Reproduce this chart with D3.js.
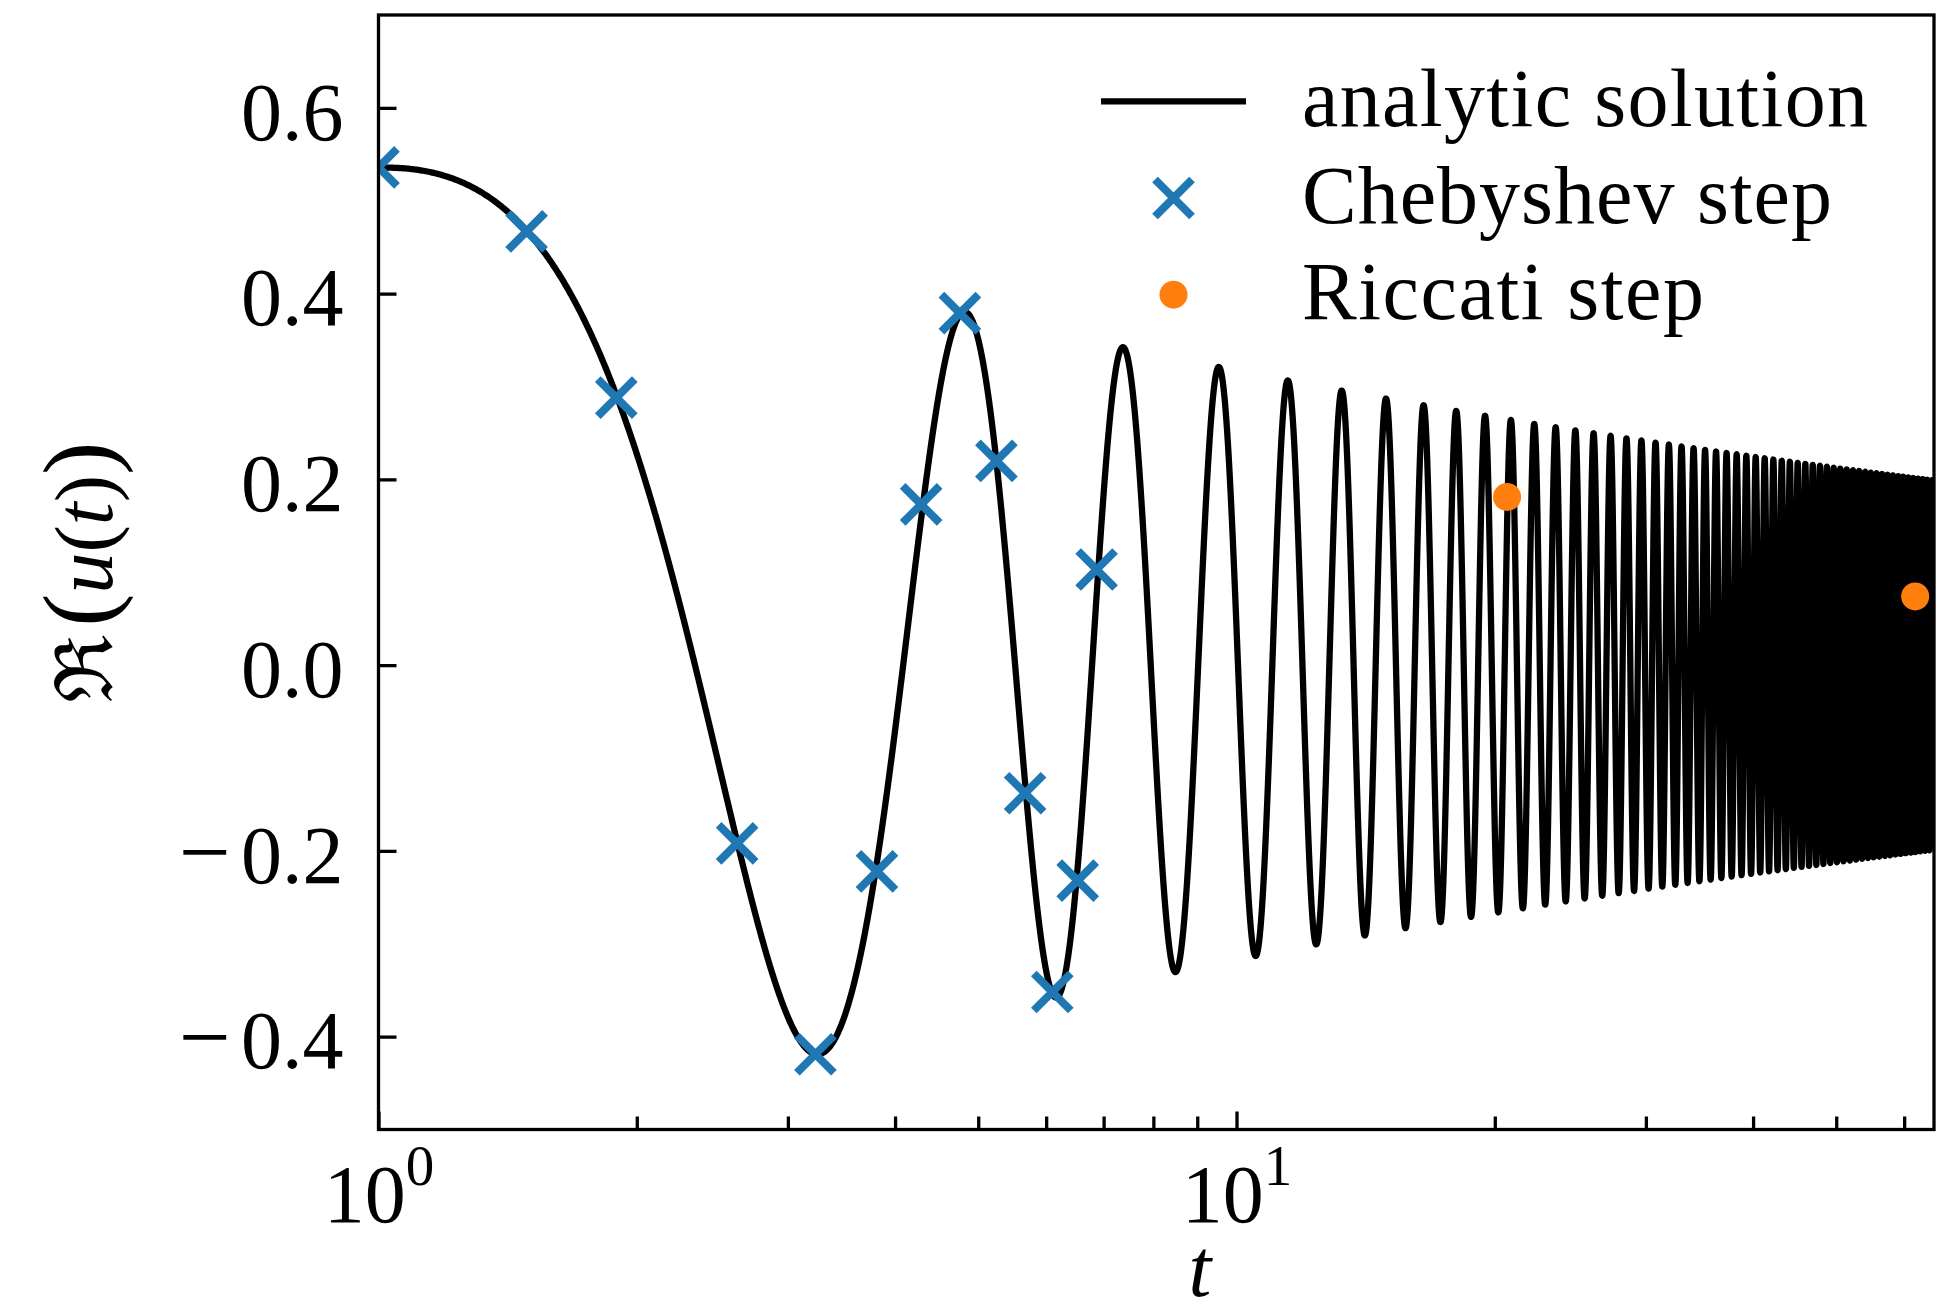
<!DOCTYPE html>
<html>
<head>
<meta charset="utf-8">
<script src="https://cdn.jsdelivr.net/npm/d3@7"></script>
<style>
  html, body { margin: 0; padding: 0; background: #fff; }
  svg { display: block; }
  text { font-family: "Liberation Serif", "DejaVu Serif", serif; fill: #000; }
</style>
</head>
<body>
<svg id="chart" width="1953" height="1316"></svg>
<script>
// Chebyshev step end points (t, Re u)
const chebT = [1.0, 1.488, 1.893, 2.618, 3.23, 3.81, 4.29, 4.76, 5.25, 5.67, 6.10, 6.53, 6.87];
const chebU = [0.536, 0.467, 0.288, -0.192, -0.419, -0.222, 0.173, 0.379, 0.220, -0.138, -0.352, -0.232, 0.103];

// Riccati step end points (t, Re u)
const ricT = [20.67, 61.8];
const ricU = [0.181, 0.074];

// axis ranges and ticks
const tRange = [1, 65];
const uRange = [-0.5, 0.7];
const yTicks = [-0.4, -0.2, 0.0, 0.2, 0.4, 0.6];
const yTickSign = ["\u2212", "\u2212", "", "", "", ""];
const yTickLabels = ["0.4", "0.2", "0.0", "0.2", "0.4", "0.6"];
const xMajorTicks = [1, 10];
const xMajorBase = ["10", "10"];
const xMajorExp = ["0", "1"];
const xMinorTicks = [2, 3, 4, 5, 6, 7, 8, 9, 20, 30, 40, 50, 60];

const legendLabels = ["analytic solution", "Chebyshev step", "Riccati step"];

// Analytic solution: u(t) = Ai(-t) + i Bi(-t); the real part is Ai(-t).
function airyAiNeg(t) {
  if (t <= 8) {
    // Maclaurin series Ai(z) = c1 f(z) - c2 g(z)
    const z = -t, z3 = z * z * z;
    const c1 = 0.355028053887817, c2 = 0.258819403792807;
    let f = 1, tf = 1, g = z, tg = z;
    for (let k = 0; k < 80; k++) {
      tf *= z3 / ((3 * k + 2) * (3 * k + 3));
      tg *= z3 / ((3 * k + 3) * (3 * k + 4));
      f += tf; g += tg;
      if (Math.abs(tf) < 1e-18 && Math.abs(tg) < 1e-18) break;
    }
    return c1 * f - c2 * g;
  }
  // large-argument oscillatory expansion
  const zeta = (2 / 3) * Math.pow(t, 1.5);
  const u1 = 0.0694444444, u2 = 0.0371334877, u3 = 0.0379930591, u4 = 0.0576490642;
  const z2 = zeta * zeta;
  const P = 1 - u2 / z2 + u4 / (z2 * z2);
  const Q = u1 / zeta - u3 / (z2 * zeta);
  const ph = zeta - Math.PI / 4;
  return Math.pow(t, -0.25) / Math.sqrt(Math.PI) * (Math.cos(ph) * P + Math.sin(ph) * Q);
}

const tGrid = d3.range(tRange[0], tRange[1] + 1e-9, 0.004);
const analytic = tGrid.map(t => ({ t, u: airyAiNeg(t) }));

const L = 378.5, R = 1934, T = 15, B = 1129.5;
const FS = 82;

const svg = d3.select("#chart");
const x = d3.scaleLog().domain(tRange).range([L, R]);
const y = d3.scaleLinear().domain(uRange).range([B, T]);

svg.append("defs").append("clipPath").attr("id", "plotClip")
  .append("rect").attr("x", L).attr("y", T).attr("width", R - L).attr("height", B - T);

const plot = svg.append("g").attr("clip-path", "url(#plotClip)");

// analytic curve
plot.append("path")
  .datum(analytic)
  .attr("fill", "none")
  .attr("stroke", "#000")
  .attr("stroke-width", 6.3)
  .attr("stroke-linejoin", "round")
  .attr("d", d3.line().x(d => x(d.t)).y(d => y(d.u)));

// Chebyshev markers (x)
const armLen = 18.5;
function crossPath(cx, cy) {
  return `M${cx - armLen},${cy - armLen}L${cx + armLen},${cy + armLen}M${cx - armLen},${cy + armLen}L${cx + armLen},${cy - armLen}`;
}
plot.selectAll(".cheb").data(chebT.map((t, i) => ({ t, u: chebU[i] })))
  .join("path")
  .attr("class", "cheb")
  .attr("d", d => crossPath(x(d.t), y(d.u)))
  .attr("stroke", "#1f77b4")
  .attr("stroke-width", 8)
  .attr("fill", "none");

// Riccati markers (dots)
plot.selectAll(".ric").data(ricT.map((t, i) => ({ t, u: ricU[i] })))
  .join("circle")
  .attr("class", "ric")
  .attr("cx", d => x(d.t))
  .attr("cy", d => y(d.u))
  .attr("r", 14)
  .attr("fill", "#ff7f0e");

// y axis
const yAxis = d3.axisLeft(y).tickValues(yTicks)
  .tickFormat("")
  .tickSizeInner(-18).tickSizeOuter(0).tickPadding(35);
const gy = svg.append("g").attr("transform", `translate(${L},0)`).call(yAxis);
gy.select(".domain").remove();
gy.selectAll(".tick line").attr("stroke", "#000").attr("stroke-width", 3.3);
gy.selectAll(".tick text").each(function (d, i) {
  const tx = d3.select(this).text(null)
    .attr("font-size", FS).attr("dy", "0.38em")
    .style("font-family", '"Liberation Serif", serif');
  if (yTickSign[i]) tx.append("tspan").attr("font-size", 92).text(yTickSign[i]);
  tx.append("tspan").attr("dx", yTickSign[i] ? 10 : 0).text(yTickLabels[i]);
});

// x axis, minor ticks
const xMinor = d3.axisBottom(x).tickValues(xMinorTicks).tickFormat("")
  .tickSizeInner(-13).tickSizeOuter(0);
const gxm = svg.append("g").attr("transform", `translate(0,${B})`).call(xMinor);
gxm.select(".domain").remove();
gxm.selectAll(".tick line").attr("stroke", "#000").attr("stroke-width", 3.3);

// x axis, major ticks with power-of-ten labels
const xMajor = d3.axisBottom(x).tickValues(xMajorTicks).tickFormat("")
  .tickSizeInner(-18).tickSizeOuter(0);
const gx = svg.append("g").attr("transform", `translate(0,${B})`).call(xMajor);
gx.select(".domain").remove();
gx.selectAll(".tick line").attr("stroke", "#000").attr("stroke-width", 3.3);
gx.selectAll(".tick text").each(function (d, i) {
  const tx = d3.select(this).text(null)
    .attr("y", 92).attr("dy", 0).attr("text-anchor", "middle")
    .attr("font-size", FS).style("font-family", '"Liberation Serif", serif');
  tx.append("tspan").text(xMajorBase[i]);
  tx.append("tspan").attr("dy", -37).attr("font-size", 57).text(xMajorExp[i]);
});

// frame
svg.append("rect")
  .attr("x", L).attr("y", T).attr("width", R - L).attr("height", B - T)
  .attr("fill", "none").attr("stroke", "#000").attr("stroke-width", 3.3);

// axis labels
svg.append("text")
  .attr("x", 1200).attr("y", 1296)
  .attr("text-anchor", "middle")
  .attr("font-size", FS)
  .attr("font-style", "italic")
  .text("t");

const yl = svg.append("text")
  .attr("transform", `translate(112,${(T + B) / 2}) rotate(-90)`)
  .attr("text-anchor", "middle")
  .attr("font-size", FS);
yl.append("tspan").style("font-family", '"DejaVu Serif", serif').attr("font-size", 80).text("\u211C");
yl.append("tspan").attr("dx", 8).attr("font-size", 100).text("(");
yl.append("tspan").attr("font-style", "italic").text("u");
yl.append("tspan").text("(");
yl.append("tspan").attr("font-style", "italic").text("t");
yl.append("tspan").text(")");
yl.append("tspan").attr("font-size", 100).text(")");

// legend
const lg = svg.append("g");
const rowY = [101.3, 198, 294.7];
const textBase = [125.7, 223, 319];
const textLen = [566, 530, 402];
lg.append("line")
  .attr("x1", 1101).attr("x2", 1246)
  .attr("y1", rowY[0]).attr("y2", rowY[0])
  .attr("stroke", "#000").attr("stroke-width", 6.3);
lg.append("path")
  .attr("d", crossPath(1173.5, rowY[1]))
  .attr("stroke", "#1f77b4").attr("stroke-width", 8).attr("fill", "none");
lg.append("circle")
  .attr("cx", 1173.5).attr("cy", rowY[2]).attr("r", 14).attr("fill", "#ff7f0e");
legendLabels.forEach((lab, i) => {
  lg.append("text")
    .attr("x", 1302).attr("y", textBase[i])
    .attr("font-size", FS)
    .attr("textLength", textLen[i])
    .attr("lengthAdjust", "spacing")
    .text(lab);
});
</script>
</body>
</html>
